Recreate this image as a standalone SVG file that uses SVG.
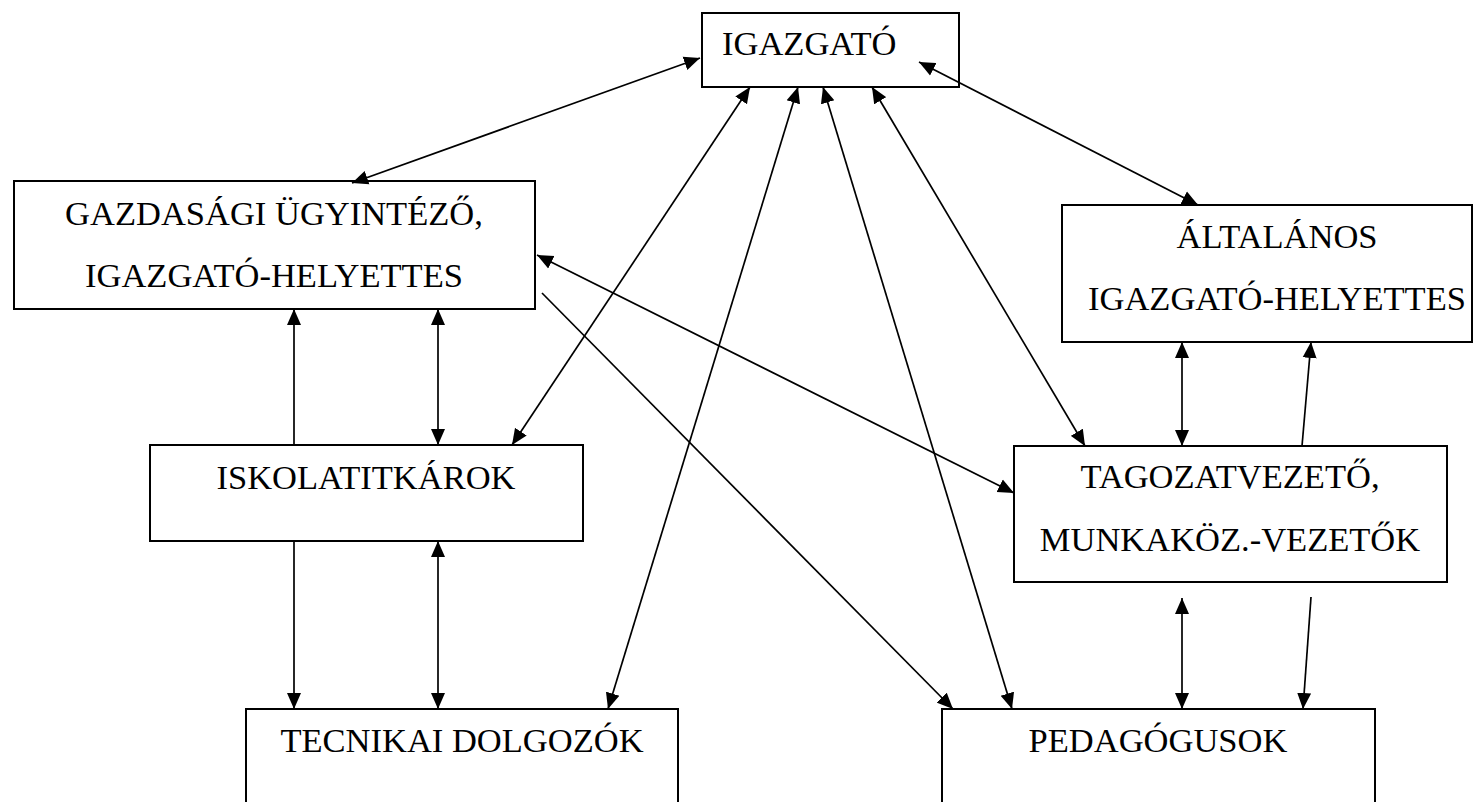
<svg xmlns="http://www.w3.org/2000/svg" width="1475" height="802" viewBox="0 0 1475 802">
<style>
.box{fill:#fff;stroke:#000;stroke-width:2}
text{font-family:'Liberation Serif',serif;font-size:34.5px;fill:#000}
.c{text-anchor:middle}
.ln{stroke:#000;stroke-width:1.7;fill:none}
.bi{marker-start:url(#ah);marker-end:url(#ah)}
.one{marker-end:url(#ah)}
</style>
<defs>
<marker id="ah" markerUnits="userSpaceOnUse" markerWidth="17" markerHeight="15" refX="16" refY="7" orient="auto-start-reverse" viewBox="0 0 17 14">
<path d="M0,0 L16,7 L0,14 z" fill="#000"/>
</marker>
</defs>
<rect width="1475" height="802" fill="#fff"/>
<g id="n-igazgato"><rect class="box" x="702" y="13" width="257" height="74"/><text font-family="Liberation Serif, serif" x="722" y="55">IGAZGATÓ</text></g>
<g id="n-gazdasagi"><rect class="box" x="14" y="181" width="521" height="128"/><text font-family="Liberation Serif, serif" class="c" x="274" y="225">GAZDASÁGI ÜGYINTÉZŐ,</text><text font-family="Liberation Serif, serif" class="c" x="274" y="287">IGAZGATÓ-HELYETTES</text></g>
<g id="n-altalanos"><rect class="box" x="1062" y="205" width="410" height="137"/><text font-family="Liberation Serif, serif" class="c" x="1277" y="248">ÁLTALÁNOS</text><text font-family="Liberation Serif, serif" class="c" x="1277" y="310">IGAZGATÓ-HELYETTES</text></g>
<g id="n-iskolatitkarok"><rect class="box" x="150" y="445" width="433" height="96"/><text font-family="Liberation Serif, serif" class="c" x="366" y="489">ISKOLATITKÁROK</text></g>
<g id="n-tagozat"><rect class="box" x="1014" y="446" width="433" height="136"/><text font-family="Liberation Serif, serif" class="c" x="1230" y="488">TAGOZATVEZETŐ,</text><text font-family="Liberation Serif, serif" class="c" x="1230" y="551">MUNKAKÖZ.-VEZETŐK</text></g>
<g id="n-tecnikai"><rect class="box" x="246" y="709" width="432" height="110"/><text font-family="Liberation Serif, serif" class="c" x="462" y="752">TECNIKAI DOLGOZÓK</text></g>
<g id="n-pedagogusok"><rect class="box" x="942" y="709" width="433" height="110"/><text font-family="Liberation Serif, serif" class="c" x="1158" y="752">PEDAGÓGUSOK</text></g>
<g id="connectors">
<line class="ln bi" x1="352" y1="183" x2="700" y2="58"/>
<line class="ln bi" x1="750" y1="87" x2="512" y2="445"/>
<line class="ln bi" x1="798" y1="87" x2="608" y2="709"/>
<line class="ln bi" x1="823" y1="87" x2="1012" y2="709"/>
<line class="ln bi" x1="872" y1="87" x2="1085" y2="446"/>
<line class="ln bi" x1="919" y1="62" x2="1198" y2="205"/>
<line class="ln bi" x1="537" y1="255" x2="1014" y2="493"/>
<line class="ln one" x1="542" y1="293" x2="953" y2="709"/>
<line class="ln one" x1="294" y1="445" x2="294" y2="309"/>
<line class="ln bi" x1="438" y1="309" x2="438" y2="445"/>
<line class="ln one" x1="294" y1="541" x2="294" y2="709"/>
<line class="ln bi" x1="438" y1="541" x2="438" y2="709"/>
<line class="ln bi" x1="1182" y1="342" x2="1182" y2="446"/>
<line class="ln one" x1="1302" y1="446" x2="1311" y2="342"/>
<line class="ln bi" x1="1182" y1="598" x2="1182" y2="709"/>
<line class="ln one" x1="1311" y1="597" x2="1303" y2="709"/>
</g>
</svg>
